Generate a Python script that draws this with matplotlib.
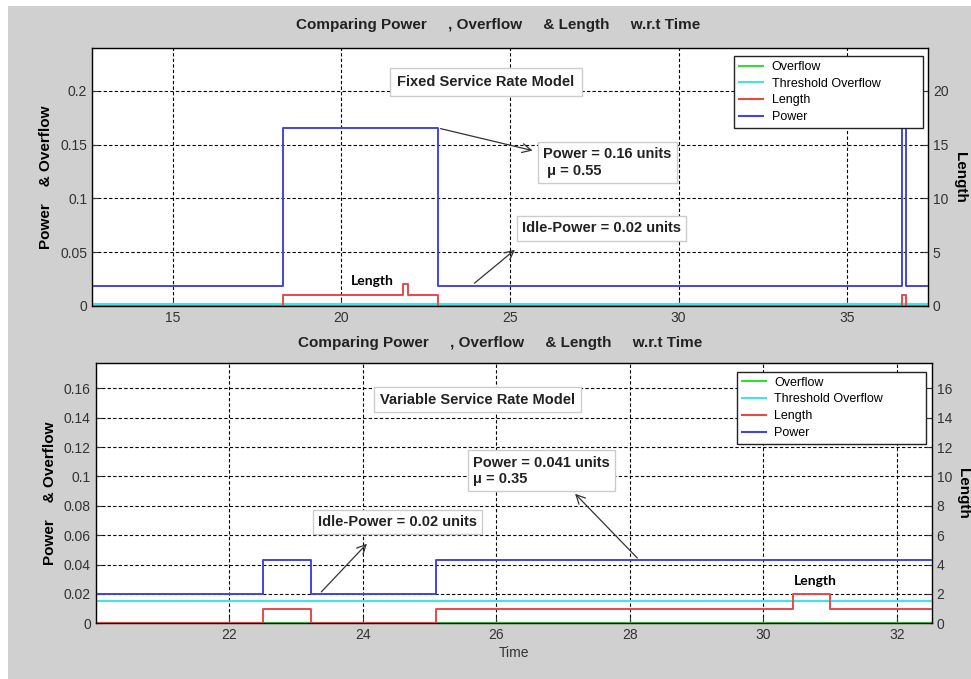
import numpy as np
import matplotlib.pyplot as plt
from matplotlib.patches import Rectangle
from matplotlib.lines import Line2D

# ---- data ----
# top panel: fixed service rate model
t_power_fix = [12.6, 18.27, 22.86, 36.62, 36.74, 37.4]
power_fix = [0.019, 0.166, 0.019, 0.166, 0.019, 0.019]
t_len_fix = [12.6, 18.27, 21.82, 21.98, 22.86, 36.62, 36.74, 37.4]
len_fix = [0, 1, 2, 1, 0, 1, 0, 0]
t_flow_fix = [12.6, 37.4]
overflow_fix = [0, 0]
thresh_fix = [0.0015, 0.0015]

# bottom panel: variable service rate model
t_power_var = [20.0, 22.51, 23.22, 25.10, 32.52]
power_var = [0.02, 0.043, 0.02, 0.043, 0.043]
t_len_var = [20.0, 22.51, 23.22, 25.10, 30.45, 31.0, 32.52]
len_var = [0, 1, 0, 1, 2, 1, 1]
t_flow_var = [20.0, 32.52]
overflow_var = [0, 0]
thresh_var = [0.015, 0.015]

legend_names = ['Overflow', 'Threshold Overflow', 'Length', 'Power']
col_over = '#33dd33'
col_thr = '#44e4e4'
col_len = '#e84848'
col_pow = '#4444dd'

title_txt = 'Comparing Power     , Overflow     & Length     w.r.t Time'

plt.rcParams['font.family'] = ['Liberation Sans', 'DejaVu Sans']
W, H = 971, 679
fig = plt.figure(figsize=(W / 100, H / 100), dpi=100, facecolor='white')
fig.patches.append(Rectangle((8 / W, 0), 1, 1 - 6 / H, transform=fig.transFigure,
                             facecolor='#d0d0d0', edgecolor='none', zorder=-10))

def px_axes(l, t, r, b):
    return fig.add_axes([l / W, 1 - b / H, (r - l) / W, (b - t) / H])

def grid_style(ax):
    ax.grid(True, color='black', linestyle=(0, (3, 2)), linewidth=0.8)
    ax.tick_params(direction='in', labelsize=10, colors='#333333', length=4)
    for s in ax.spines.values():
        s.set_color('#333333')
        s.set_linewidth(1.0)

def txtbox(ax, x, y, s, ha='center', pad=0.35):
    ax.text(x, y, s, ha=ha, va='center', fontsize=10.5, fontweight='bold', color='#222222',
            bbox=dict(boxstyle='square,pad=%.2f' % pad, facecolor='white', edgecolor='#cccccc', lw=1),
            zorder=6)

def arrow(ax, tail, head):
    ax.annotate('', xy=head, xytext=tail,
                arrowprops=dict(arrowstyle='->', color='#333333', lw=0.9, mutation_scale=16),
                zorder=7)

def panel(ax, t_flow, over, thr, t_pow, pw, t_len, ln, xlim, ylim, ylim2):
    ax.set_facecolor('white')
    ax.step(t_flow, over, where='post', color=col_over, lw=1.6)
    ax.step(t_flow, thr, where='post', color=col_thr, lw=1.6)
    ax.step(t_pow, pw, where='post', color=col_pow, lw=1.4, zorder=3)
    ax.set_xlim(*xlim)
    ax.set_ylim(*ylim)
    grid_style(ax)
    ax.set_ylabel('Power    & Overflow', fontsize=11, fontweight='bold', labelpad=5)
    ax2 = ax.twinx()
    ax2.step(t_len, ln, where='post', color=col_len, lw=1.4)
    ax2.set_ylim(*ylim2)
    ax2.tick_params(direction='in', labelsize=10, colors='#333333', length=4)
    ax2.set_ylabel('Length', fontsize=11, fontweight='bold', rotation=270, labelpad=13)
    handles = [Line2D([], [], color=c, lw=1.5) for c in (col_over, col_thr, col_len, col_pow)]
    return ax2, handles

def add_legend(ax, handles, box):
    leg = ax.legend(handles, legend_names, loc='upper left', bbox_to_anchor=box, mode='expand',
                    borderaxespad=0, fontsize=9, fancybox=False, framealpha=1,
                    edgecolor='#222222', handlelength=1.9, handletextpad=0.7,
                    labelspacing=0.38, borderpad=0.4)
    leg.get_frame().set_linewidth(1.0)

# ---- top panel ----
ax1 = px_axes(92, 48, 928, 306)
ax1b, hnd = panel(ax1, t_flow_fix, overflow_fix, thresh_fix, t_power_fix, power_fix,
                  t_len_fix, len_fix, (12.6, 37.4), (0, 0.24), (0, 24))
ax1.set_xticks([15, 20, 25, 30, 35])
ax1.set_yticks([0, 0.05, 0.1, 0.15, 0.2])
ax1.set_yticklabels(['0', '0.05', '0.1', '0.15', '0.2'])
ax1b.set_yticks([0, 5, 10, 15, 20])
txtbox(ax1, 24.28, 0.2084, 'Fixed Service Rate Model', pad=0.5)
txtbox(ax1, 25.98, 0.1335, 'Power = 0.16 units\n μ = 0.55', ha='left')
txtbox(ax1, 27.72, 0.0721, 'Idle-Power = 0.02 units')
arrow(ax1, (22.86, 0.1656), (25.75, 0.144))
arrow(ax1, (23.88, 0.0195), (25.21, 0.054))
ax1.text(20.91, 0.0235, 'Length', ha='center', va='center', fontsize=10,
         fontweight='bold', family=['Lato', 'DejaVu Sans'], zorder=6)
add_legend(ax1b, hnd, (0.768, 0.5, 0.226, 0.469))
fig.text(498 / W, 1 - 25 / H, title_txt, ha='center', va='center', fontsize=11,
         fontweight='bold', color='#222222')

# ---- bottom panel ----
ax2 = px_axes(95.7, 362.7, 931.7, 623.3)
ax2b, hnd = panel(ax2, t_flow_var, overflow_var, thresh_var, t_power_var, power_var,
                  t_len_var, len_var, (20.0, 32.52), (0, 0.1775), (0, 17.75))
ax2.set_xticks([22, 24, 26, 28, 30, 32])
ax2.set_yticks([0, 0.02, 0.04, 0.06, 0.08, 0.1, 0.12, 0.14, 0.16])
ax2.set_yticklabels(['0', '0.02', '0.04', '0.06', '0.08', '0.1', '0.12', '0.14', '0.16'])
ax2b.set_yticks([0, 2, 4, 6, 8, 10, 12, 14, 16])
ax2.set_xlabel('Time', fontsize=10, color='#333333', labelpad=3)
txtbox(ax2, 25.72, 0.1524, 'Variable Service Rate Model', pad=0.4)
txtbox(ax2, 25.65, 0.104, 'Power = 0.041 units\nμ = 0.35', ha='left')
txtbox(ax2, 24.52, 0.0692, 'Idle-Power = 0.02 units')
arrow(ax2, (28.14, 0.0431), (27.15, 0.0896))
arrow(ax2, (23.35, 0.020), (24.09, 0.0556))
ax2.text(30.78, 0.0285, 'Length', ha='center', va='center', fontsize=10,
         fontweight='bold', family=['Lato', 'DejaVu Sans'], zorder=6)
add_legend(ax2b, hnd, (0.767, 0.5, 0.226, 0.4655))
fig.text(500 / W, 1 - 343 / H, title_txt, ha='center', va='center', fontsize=11,
         fontweight='bold', color='#222222')

fig.savefig('out.png', dpi=100, facecolor=fig.get_facecolor())
